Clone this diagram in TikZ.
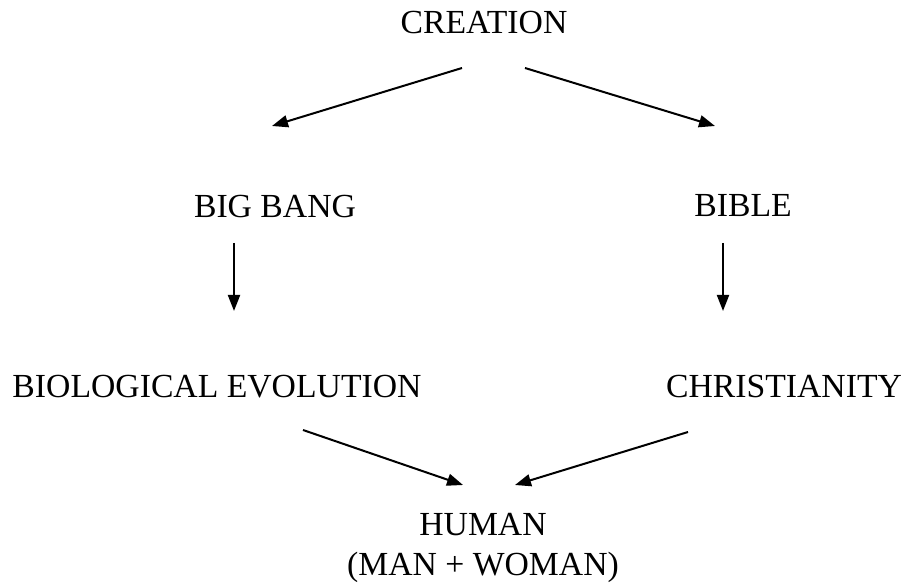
\documentclass[tikz,border=0pt]{standalone}
\usepackage{fontspec}
\setmainfont{Liberation Serif}
\usetikzlibrary{arrows.meta}
\begin{document}
\begin{tikzpicture}[x=1pt,y=-1pt,
  word/.style={anchor=base,inner sep=0pt,font=\fontsize{33.7}{40}\selectfont},
  arr/.style={line width=2pt,-{Triangle[length=16pt,width=12pt]}}]
\useasboundingbox (0,0) rectangle (903,585);
\node[word] (creation) at (484,34) {CREATION};
\node[word] (bigbang) at (275,218) {BIG BANG};
\node[word] (bible) at (743,217) {BIBLE};
\node[word] (bioevo) at (217,398) {BIOLOGICAL EVOLUTION};
\node[word] (christ) at (784,398) {CHRISTIANITY};
\node[word] (human) at (483,535) {HUMAN};
\node[word] (couple) at (483,575) {(MAN + WOMAN)};
\draw[arr] ([shift={(-22,34)}]creation.base) -- ([shift={(-3,-92)}]bigbang.base);
\draw[arr] ([shift={(41,34)}]creation.base) -- ([shift={(-28,-91)}]bible.base);
\draw[arr] ([shift={(-41,25)}]bigbang.base) -- ([shift={(17,-87)}]bioevo.base);
\draw[arr] ([shift={(-20,26)}]bible.base) -- ([shift={(-61,-87)}]christ.base);
\draw[arr] ([shift={(86,32)}]bioevo.base) -- ([shift={(-20,-50)}]human.base);
\draw[arr] ([shift={(-96,34)}]christ.base) -- ([shift={(32,-50)}]human.base);
\end{tikzpicture}
\end{document}
